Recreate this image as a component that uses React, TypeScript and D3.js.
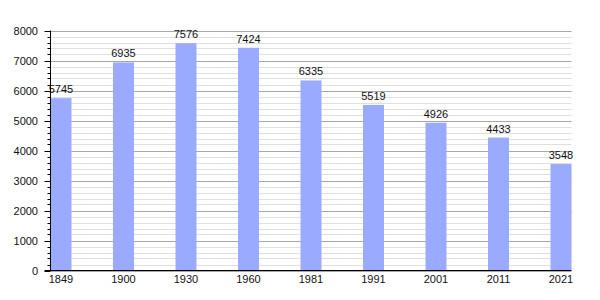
import React from "react";
import * as d3 from "d3";

const years = ["1849", "1900", "1930", "1960", "1981", "1991", "2001", "2011", "2021"];
const population = [5745, 6935, 7576, 7424, 6335, 5519, 4926, 4433, 3548];
const yMajorTicks = [0, 1000, 2000, 3000, 4000, 5000, 6000, 7000, 8000];

export default function App() {
  const W = 600, H = 300;
  const left = 50.5, right = 571.5, top = 30.5, bottom = 270.5;
  const barW = 21;
  const y = d3.scaleLinear().domain([0, 8000]).range([bottom, top]);
  const x = d3.scaleLinear().domain([0, years.length - 1]).range([left + 10.5, right - 10.5]);
  const minor = d3.range(0, 8001, 200).filter((v) => v % 1000 !== 0);
  const font = "'Liberation Sans', Arial, sans-serif";
  return (
    <svg width={W} height={H} style={{ position: "absolute", left: 0, top: 0 }} fontFamily={font}>
      <rect width={W} height={H} fill="#fff" />
      {minor.map((v) => (
        <line key={"m" + v} x1={left} x2={right} y1={Math.round(y(v)) + 0.5} y2={Math.round(y(v)) + 0.5} stroke="#e0e0e0" strokeWidth={1} />
      ))}
      {yMajorTicks.map((v) => (
        <line key={"g" + v} x1={left} x2={right} y1={Math.round(y(v)) + 0.5} y2={Math.round(y(v)) + 0.5} stroke="#a8a8a8" strokeWidth={1} />
      ))}
      {population.map((v, i) => (
        <rect key={"b" + i} x={x(i) - barW / 2} y={y(v)} width={barW} height={y(0) - y(v)} fill="#99aaff" />
      ))}
      {population.map((v, i) => (
        <text key={"t" + i} x={x(i)} y={y(v) - 5} textAnchor="middle" fontSize={11} fill="#111">{v}</text>
      ))}
      {minor.map((v) => (
        <line key={"mt" + v} x1={left - 3} x2={left} y1={Math.round(y(v)) + 0.5} y2={Math.round(y(v)) + 0.5} stroke="#000" />
      ))}
      {yMajorTicks.map((v) => (
        <line key={"Mt" + v} x1={left - 6} x2={left} y1={Math.round(y(v)) + 0.5} y2={Math.round(y(v)) + 0.5} stroke="#000" />
      ))}
      {yMajorTicks.map((v) => (
        <text key={"yl" + v} x={38} y={y(v) + 4} textAnchor="end" fontSize={11} fill="#111">{v}</text>
      ))}
      <line x1={left} x2={left} y1={top} y2={bottom} stroke="#000" />
      <line x1={left - 6} x2={right} y1={bottom} y2={bottom} stroke="#000" />
      {years.map((yr, i) => (
        <text key={"xl" + i} x={x(i)} y={283} textAnchor="middle" fontSize={11} fill="#111">{yr}</text>
      ))}
    </svg>
  );
}
